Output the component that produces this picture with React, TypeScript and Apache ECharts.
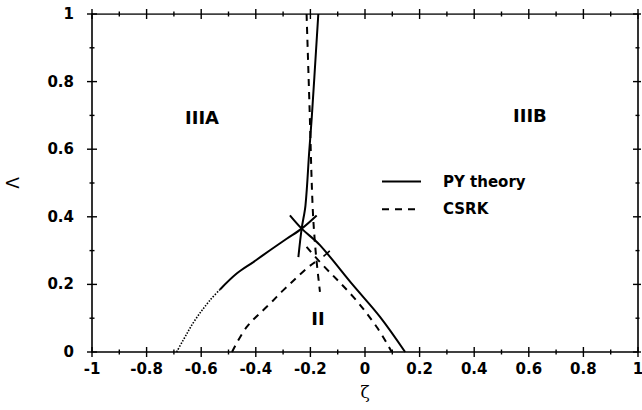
import React, { useEffect, useRef } from "react";
import * as echarts from "echarts";

// ζ (x) and Λ (y) values
const PY_UPPER: number[][] = [[-0.171, 1], [-0.195, 0.694], [-0.204, 0.597], [-0.218, 0.434], [-0.232, 0.365], [-0.244, 0.281]];
const PY_LEFT_DOTTED: number[][] = [[-0.69, 0], [-0.666, 0.035], [-0.623, 0.094], [-0.568, 0.153], [-0.531, 0.185]];
const PY_LEFT: number[][] = [[-0.531, 0.185], [-0.47, 0.232], [-0.409, 0.266], [-0.348, 0.301], [-0.287, 0.335], [-0.232, 0.365], [-0.177, 0.404]];
const PY_RIGHT: number[][] = [[-0.275, 0.404], [-0.232, 0.365], [-0.165, 0.316], [-0.043, 0.197], [0.055, 0.104], [0.147, 0]];
const PY_MARK: number[][] = [[-0.152, 0.283], [-0.129, 0.299]];
const CSRK_UPPER: number[][] = [[-0.214, 1], [-0.203, 0.72], [-0.192, 0.434], [-0.181, 0.3], [-0.165, 0.178]];
const CSRK_LEFT: number[][] = [[-0.487, 0], [-0.433, 0.074], [-0.348, 0.143], [-0.299, 0.183], [-0.214, 0.247], [-0.183, 0.266]];
const CSRK_RIGHT: number[][] = [[-0.214, 0.311], [-0.165, 0.266], [-0.043, 0.163], [0.043, 0.074], [0.098, 0]];
const REGION_LABELS: (number | string)[][] = [[-0.597, 0.694, "IIIA"], [0.604, 0.7, "IIIB"], [-0.172, 0.1, "II"]];

// tick positions (major ticks carry labels)
const X_MAJOR = [-1, -0.8, -0.6, -0.4, -0.2, 0, 0.2, 0.4, 0.6, 0.8, 1];
const X_MINOR = [-0.9, -0.7, -0.5, -0.3, -0.1, 0.1, 0.3, 0.5, 0.7, 0.9];
const Y_MAJOR = [0, 0.2, 0.4, 0.6, 0.8, 1];
const Y_MINOR = [0.1, 0.3, 0.5, 0.7, 0.9];

const X_MIN = -1, X_MAX = 1, X_STEP = 0.2;
const Y_MIN = 0, Y_MAX = 1, Y_STEP = 0.2;

const FONT = "'DejaVu Sans', 'Liberation Sans', Arial, sans-serif";

export default function App() {
  const ref = useRef<HTMLDivElement>(null);
  useEffect(() => {
    if (!ref.current) return;
    const chart = echarts.init(ref.current, null, { renderer: "svg" });
    const labelFmt = (v: number) => String(Math.round(v * 10) / 10);
    const axisLine = { show: true, onZero: false, lineStyle: { color: "#000", width: 1.6 } };
    const tickData = [
      ...X_MAJOR.map((v) => [v, 0]),
      ...X_MINOR.map((v) => [v, 1]),
      ...Y_MAJOR.map((v) => [v, 2]),
      ...Y_MINOR.map((v) => [v, 3]),
    ];
    const solid = { color: "#000", width: 2, type: "solid" };
    const dashed = { color: "#000", width: 2, type: [7, 6] };
    const line = (name: string, data: number[][], lineStyle: any) => ({
      type: "line",
      name,
      data,
      showSymbol: false,
      symbol: "none",
      smooth: 0.35,
      lineStyle,
      itemStyle: { color: "#000" },
      silent: true,
    });
    chart.setOption({
      animation: false,
      backgroundColor: "#fff",
      grid: { left: 92, right: 4, top: 14, bottom: 58, containLabel: false, outerBoundsMode: "none" },
      xAxis: {
        type: "value",
        min: X_MIN,
        max: X_MAX,
        interval: X_STEP,
        axisLine,
        splitLine: { show: false },
        axisTick: { show: false },
        axisLabel: { margin: 9, color: "#000", fontSize: 15, fontWeight: "bold", fontFamily: FONT, formatter: labelFmt, hideOverlap: false },
        name: "ζ",
        nameLocation: "middle",
        nameGap: 31,
        nameTextStyle: { color: "#000", fontSize: 17, fontFamily: "'DejaVu Serif', 'Liberation Serif', serif" },
      },
      yAxis: {
        type: "value",
        min: Y_MIN,
        max: Y_MAX,
        interval: Y_STEP,
        axisLine,
        splitLine: { show: false },
        axisTick: { show: false },
        axisLabel: { margin: 18, color: "#000", fontSize: 15, fontWeight: "bold", fontFamily: FONT, formatter: labelFmt, hideOverlap: false },
        name: "Λ",
        nameLocation: "middle",
        nameGap: 71,
        nameRotate: 90,
        nameTextStyle: { color: "#000", fontSize: 17, fontFamily: "'DejaVu Sans', sans-serif" },
      },
      legend: {
        orient: "vertical",
        left: 376,
        top: 169,
        itemWidth: 39,
        itemHeight: 14,
        itemGap: 12.7,
        data: ["PY theory", "CSRK"],
        itemStyle: { opacity: 0 },
        textStyle: { color: "#000", fontSize: 15, fontWeight: "bold", fontFamily: FONT, padding: [0, 0, 0, 17] },
        selectedMode: false,
      },
      series: [
        {
          type: "custom",
          name: "frame",
          silent: true,
          clip: false,
          data: tickData,
          renderItem: (params: any, api: any) => {
            const v = api.value(0);
            const kind = api.value(1);
            const L = kind === 0 || kind === 2 ? 5 : 2.5;
            const st = { stroke: "#000", lineWidth: 1.4 };
            if (kind <= 1) {
              const b = api.coord([v, Y_MIN]);
              const t = api.coord([v, Y_MAX]);
              return {
                type: "group",
                children: [
                  { type: "line", shape: { x1: b[0], y1: b[1] - L, x2: b[0], y2: b[1] + L }, style: st },
                  { type: "line", shape: { x1: t[0], y1: t[1] - L, x2: t[0], y2: t[1] + L }, style: st },
                ],
              };
            }
            const l = api.coord([X_MIN, v]);
            const r = api.coord([X_MAX, v]);
            return {
              type: "group",
              children: [
                { type: "line", shape: { x1: l[0] - L, y1: l[1], x2: l[0] + L, y2: l[1] }, style: st },
                { type: "line", shape: { x1: r[0] - L, y1: r[1], x2: r[0] + L * 0.6, y2: r[1] }, style: st },
              ],
            };
          },
        },
        // top and right frame lines
        { ...line("frameTop", [[X_MIN, Y_MAX], [X_MAX, Y_MAX]], { color: "#000", width: 1.6 }), smooth: false },
        { ...line("frameRight", [[X_MAX, Y_MIN], [X_MAX, Y_MAX]], { color: "#000", width: 1.6 }), smooth: false },
        line("PY theory", PY_UPPER, solid),
        line("PY theory", PY_LEFT, solid),
        line("PY theory", PY_RIGHT, solid),
        { ...line("PY theory", PY_MARK, { color: "#000", width: 1.6 }), smooth: false },
        line("PY theory (extrapolated)", PY_LEFT_DOTTED, { color: "#000", width: 1.6, type: [1.5, 1.5] }),
        line("CSRK", CSRK_UPPER, dashed),
        line("CSRK", CSRK_LEFT, dashed),
        line("CSRK", CSRK_RIGHT, dashed),
        {
          type: "scatter",
          name: "regions",
          symbolSize: 0,
          silent: true,
          itemStyle: { opacity: 1 },
          data: REGION_LABELS.map((r) => ({ value: [r[0], r[1]], name: r[2] })),
          label: {
            show: true,
            position: "inside",
            formatter: (p: any) => p.name,
            color: "#000",
            opacity: 1,
            fontSize: 18,
            fontWeight: "bold",
            fontFamily: FONT,
          },
        },
      ],
    });
    return () => chart.dispose();
  }, []);
  return <div ref={ref} style={{ position: "fixed", left: 0, top: 0, width: 642, height: 410 }} />;
}
